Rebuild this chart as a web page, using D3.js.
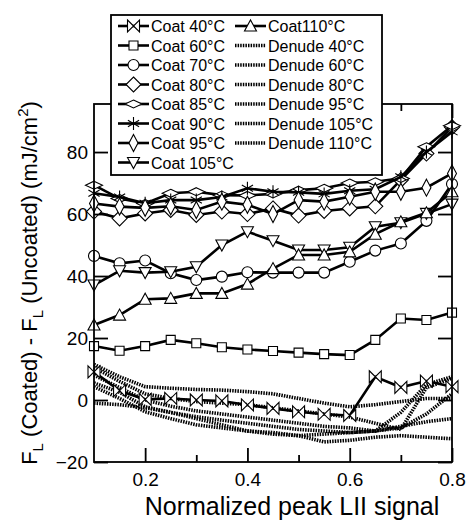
<!DOCTYPE html>
<html lang="en">
<head>
<meta charset="UTF-8">
<title>Coated vs uncoated fluence</title>
<style>
  body { margin: 0; background: #fff; }
  text { font-family: "Liberation Sans", Arial, sans-serif; fill: #000; }
</style>
</head>
<body>
<script src="https://cdn.jsdelivr.net/npm/d3@7"></script>
<script>
    const W = 467, H = 522;

    // x positions shared by every series
    const signal = [0.1, 0.15, 0.2, 0.25, 0.3, 0.35, 0.4, 0.45, 0.5, 0.55, 0.6, 0.65, 0.7, 0.75, 0.8];

    const coat40 = [9.1, 3.0, 0.2, 0.5, 0, -0.3, -1.6, -2.7, -3.8, -4.6, -5.0, 7.5, 4.1, 6.1, 4.3];
    const coat60 = [17.4, 15.9, 17.4, 19.4, 18.3, 17.0, 16.3, 15.8, 15.3, 14.8, 14.5, 19.4, 26.3, 25.8, 28.2];
    const coat70 = [46.5, 44.1, 45.0, 40.9, 38.7, 39.8, 41.2, 41.1, 41.1, 41.1, 44.6, 48.2, 50.5, 57.8, 69.7];
    const coat80 = [60.8, 58.6, 60.2, 61.3, 59.7, 60.8, 60.0, 61.8, 59.5, 61.0, 61.8, 62.5, 71.0, 79.5, 88.0];
    const coat85 = [69.3, 65.0, 63.4, 66.7, 67.2, 66.1, 66.0, 66.5, 67.7, 68.3, 70.0, 70.4, 71.5, 81.7, 88.5];
    const coat90 = [66.7, 65.5, 63.5, 64.5, 64.5, 65.5, 68.3, 67.2, 67.0, 66.5, 67.5, 68.0, 72.0, 80.0, 86.5];
    const coat95 = [63.4, 62.4, 62.0, 62.5, 61.3, 64.0, 63.0, 60.0, 64.5, 64.0, 65.6, 67.2, 67.2, 68.5, 73.1];
    const coat105 = [37.1, 41.7, 41.1, 41.4, 43.0, 50.0, 54.3, 51.4, 48.4, 48.4, 49.3, 55.9, 57.2, 60.2, 63.2];
    const coat110 = [24.2, 27.4, 32.5, 32.8, 34.4, 34.4, 37.4, 42.4, 46.8, 46.8, 47.8, 53.5, 57.5, 60.4, 67.2];

    const denude40 = [11.5, 7.5, 4.3, 3.8, 3.4, 3.2, 2.7, 2.0, 0.5, -1.0, -2.2, -1.5, -0.5, 0.5, 0.5];
    const denude60 = [10.5, 6.0, 2.0, 0.5, -0.5, -1.0, -1.5, -2.5, -3.5, -4.5, -5.5, -7.5, -9.5, 4.0, 7.0];
    const denude80 = [8.0, 4.0, 0.0, -2.0, -3.5, -4.5, -5.5, -6.5, -7.5, -8.5, -9.0, -10.0, -4.0, 5.0, 7.5];
    const denude95 = [5.5, 2.5, -2.2, -4.0, -5.4, -6.5, -7.5, -8.5, -9.5, -10.0, -10.5, -10.0, -8.5, -7.0, -6.0];
    const denude105 = [4.3, 0.5, -3.8, -6.0, -8.0, -9.0, -10.0, -10.5, -11.5, -13.5, -13.0, -12.0, -11.5, -12.0, -12.5];
    const denude110 = [-1.0, -1.5, -2.5, -4.0, -6.0, -8.0, -10.0, -11.0, -11.5, -11.0, -10.5, -10.0, -9.0, -4.5, 2.0];

    const xTicks = [0.2, 0.4, 0.6, 0.8];
    const xMinor = [0.3, 0.5, 0.7];
    const yTicks = [-20, 0, 20, 40, 60, 80];

    // marker shapes, centred on 0,0
    const shapes = {
        bowtie: "M-6,-6L6,6L6,-6L-6,6Z",
        square: "M-4.5,-4.5h9v9h-9Z",
        circle: "M5.5,0A5.5,5.5 0 1,1 -5.5,0A5.5,5.5 0 1,1 5.5,0Z",
        diamond: "M0,-7.5L7.5,0L0,7.5L-7.5,0Z",
        flat: "M0,-4L8.5,0L0,4L-8.5,0Z",
        star: "M0,-6.5V6.5M-5.6,-3.25L5.6,3.25M-5.6,3.25L5.6,-3.25",
        tall: "M0,-8.5L4.5,0L0,8.5L-4.5,0Z",
        down: "M-6,-5L6,-5L0,6Z",
        up: "M-6,5L6,5L0,-6Z"
    };

    const coats = [
        {name: "Coat 40°C", v: coat40, m: "bowtie"},
        {name: "Coat 60°C", v: coat60, m: "square"},
        {name: "Coat 70°C", v: coat70, m: "circle"},
        {name: "Coat 80°C", v: coat80, m: "diamond"},
        {name: "Coat 85°C", v: coat85, m: "flat"},
        {name: "Coat 90°C", v: coat90, m: "star"},
        {name: "Coat 95°C", v: coat95, m: "tall"},
        {name: "Coat 105°C", v: coat105, m: "down"},
        {name: "Coat110°C", v: coat110, m: "up"}
    ];
    const denudes = [
        {name: "Denude 40°C", v: denude40},
        {name: "Denude 60°C", v: denude60},
        {name: "Denude 80°C", v: denude80},
        {name: "Denude 95°C", v: denude95},
        {name: "Denude 105°C", v: denude105},
        {name: "Denude 110°C", v: denude110}
    ];

    let pLeft = 94, pRight = 452, pTop = 104, pBottom = 462;

    let x = d3.scaleLinear().domain([0.1, 0.8]).range([pLeft, pRight]);
    let y = d3.scaleLinear().domain([-20, 95.5]).range([pBottom, pTop]);

    let svg = d3.select("body").append("svg")
        .attr("width", W)
        .attr("height", H);

    let line = d3.line()
        .x((d, i) => x(signal[i]))
        .y(d => y(d));

    // denuded runs, dotted
    svg.append("g").selectAll("path")
        .data(denudes)
        .enter()
        .append("path")
        .attr("d", d => line(d.v))
        .attr("fill", "none")
        .attr("stroke", "#000")
        .attr("stroke-width", 3.6)
        .attr("stroke-dasharray", "1.5,1.1");

    function drawMarker(g, m, px, py) {
        g.append("path")
            .attr("d", shapes[m])
            .attr("transform", "translate(" + px + "," + py + ")")
            .attr("fill", m === "star" ? "none" : "#fff")
            .attr("stroke", "#000")
            .attr("stroke-width", 1.1);
    }

    // coated runs
    coats.forEach(function (s) {
        let g = svg.append("g");
        g.append("path")
            .attr("d", line(s.v))
            .attr("fill", "none")
            .attr("stroke", "#000")
            .attr("stroke-width", 2.6);
        s.v.forEach(function (v, i) {
            drawMarker(g, s.m, x(signal[i]), y(v));
        });
    });

    // frame
    svg.append("rect")
        .attr("x", pLeft).attr("y", pTop)
        .attr("width", pRight - pLeft).attr("height", pBottom - pTop)
        .attr("fill", "none")
        .attr("stroke", "#000")
        .attr("stroke-width", 1.8);

    // inward ticks on all four sides
    let xb = d3.axisBottom(x).tickValues(xTicks).tickSize(-14).tickPadding(11).tickFormat(d3.format(".1f"));
    let xt = d3.axisTop(x).tickValues(xTicks).tickSize(-14).tickFormat("");
    let xbm = d3.axisBottom(x).tickValues(xMinor).tickSize(-7).tickFormat("");
    let xtm = d3.axisTop(x).tickValues(xMinor).tickSize(-7).tickFormat("");
    let yl = d3.axisLeft(y).tickValues(yTicks).tickSize(-14).tickPadding(6);
    let yr = d3.axisRight(y).tickValues(yTicks).tickSize(-14).tickFormat("");

    function styleAxis(g) {
        g.select(".domain").remove();
        g.selectAll(".tick line").attr("stroke", "#000").attr("stroke-width", 1.8);
        g.selectAll(".tick text").style("font-size", "19px").attr("fill", "#000")
            .style("font-family", "Liberation Sans, Arial, sans-serif");
    }

    svg.append("g").attr("transform", "translate(0," + pBottom + ")").call(xb).call(styleAxis);
    svg.append("g").attr("transform", "translate(0," + pTop + ")").call(xt).call(styleAxis);
    svg.append("g").attr("transform", "translate(0," + pBottom + ")").call(xbm).call(styleAxis);
    svg.append("g").attr("transform", "translate(0," + pTop + ")").call(xtm).call(styleAxis);
    svg.append("g").attr("transform", "translate(" + pLeft + ",0)").call(yl).call(styleAxis);
    svg.append("g").attr("transform", "translate(" + pRight + ",0)").call(yr).call(styleAxis);

    // axis titles
    svg.append("text")
        .attr("x", 292)
        .attr("y", 515)
        .attr("text-anchor", "middle")
        .style("font-size", "25px")
        .text("Normalized peak LII signal");

    let yt = svg.append("text")
        .attr("transform", "translate(37," + ((pTop + pBottom) / 2) + ") rotate(-90)")
        .attr("text-anchor", "middle")
        .style("font-size", "22px");
    yt.append("tspan").text("F");
    yt.append("tspan").attr("dy", 6).style("font-size", "15px").text("L");
    yt.append("tspan").attr("dy", -6).text(" (Coated) - F");
    yt.append("tspan").attr("dy", 6).style("font-size", "15px").text("L");
    yt.append("tspan").attr("dy", -6).text(" (Uncoated) (mJ/cm");
    yt.append("tspan").attr("dy", -9).style("font-size", "15px").text("2");
    yt.append("tspan").attr("dy", 9).text(")");

    // legend
    let lg = svg.append("g");
    lg.append("rect")
        .attr("x", 111).attr("y", 15)
        .attr("width", 271).attr("height", 160)
        .attr("fill", "#fff")
        .attr("stroke", "#000")
        .attr("stroke-width", 1.8);

    let rowY = i => 26 + i * 19.5;
    let items = coats.slice(0, 8).map((s, i) => ({s: s, col: 0, row: i}))
        .concat([{s: coats[8], col: 1, row: 0}])
        .concat(denudes.map((s, i) => ({s: s, col: 1, row: i + 1})));

    items.forEach(function (it) {
        let x0 = it.col === 0 ? 118 : 235;
        let yy = rowY(it.row);
        let ln = lg.append("line")
            .attr("x1", x0).attr("x2", x0 + 31)
            .attr("y1", yy).attr("y2", yy)
            .attr("stroke", "#000");
        if (it.s.m) {
            ln.attr("stroke-width", 2.6);
            drawMarker(lg, it.s.m, x0 + 15.5, yy);
        } else {
            ln.attr("stroke-width", 3.6).attr("stroke-dasharray", "1.5,1.1");
        }
        lg.append("text")
            .attr("x", x0 + 33)
            .attr("y", yy + 6)
            .style("font-size", "16px")
            .text(it.s.name);
    });
</script>
</body>
</html>
